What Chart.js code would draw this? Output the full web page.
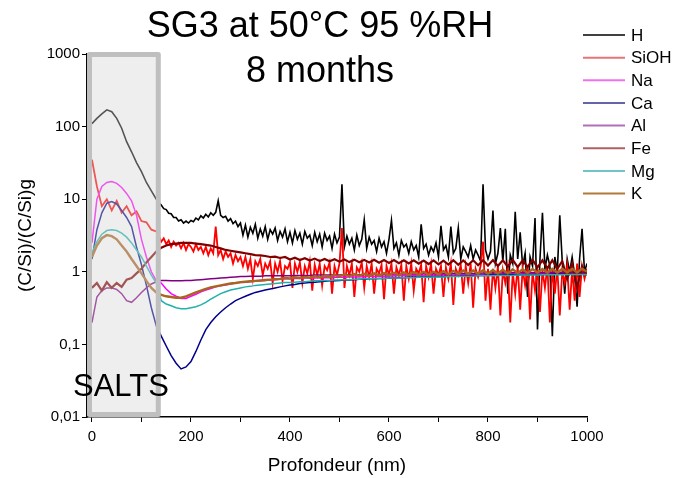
<!DOCTYPE html>
<html>
<head>
<meta charset="utf-8">
<script src="https://cdn.jsdelivr.net/npm/chart.js@4.4.0/dist/chart.umd.min.js"></script>
<style>
  html, body { margin: 0; padding: 0; background: #fff; }
  #wrap { width: 677px; height: 478px; }
</style>
</head>
<body>
<div id="wrap"><canvas id="grafico" width="677" height="478"></canvas></div>
<script>
// profondeur (nm), pas de 10 nm pour les courbes lisses
const depth = [
  0, 10, 20, 30, 40, 50, 60, 70, 80, 90,
  100, 110, 120, 130, 140, 150, 160, 170, 180, 190,
  200, 210, 220, 230, 240, 250, 260, 270, 280, 290,
  300, 310, 320, 330, 340, 350, 360, 370, 380, 390,
  400, 410, 420, 430, 440, 450, 460, 470, 480, 490,
  500, 510, 520, 530, 540, 550, 560, 570, 580, 590,
  600, 610, 620, 630, 640, 650, 660, 670, 680, 690,
  700, 710, 720, 730, 740, 750, 760, 770, 780, 790,
  800, 810, 820, 830, 840, 850, 860, 870, 880, 890,
  900, 910, 920, 930, 940, 950, 960, 970, 980, 990,
  1000
];

// profondeur (nm), pas de 5 nm pour les courbes bruitées (H, SiOH)
const depthFin = [
  0, 10, 20, 30, 40, 50, 60, 70, 80, 90, 100, 110, 120, 130,
  135, 140, 145, 150, 155, 160, 165, 170, 175, 180, 185, 190, 195, 200,
  205, 210, 215, 220, 225, 230, 235, 240, 245, 250, 255, 260, 265, 270, 275, 280, 285, 290, 295, 300,
  305, 310, 315, 320, 325, 330, 335, 340, 345, 350, 355, 360, 365, 370, 375, 380, 385, 390, 395, 400,
  405, 410, 415, 420, 425, 430, 435, 440, 445, 450, 455, 460, 465, 470, 475, 480, 485, 490, 495, 500,
  505, 510, 515, 520, 525, 530, 535, 540, 545, 550, 555, 560, 565, 570, 575, 580, 585, 590, 595, 600,
  605, 610, 615, 620, 625, 630, 635, 640, 645, 650, 655, 660, 665, 670, 675, 680, 685, 690, 695, 700,
  705, 710, 715, 720, 725, 730, 735, 740, 745, 750, 755, 760, 765, 770, 775, 780, 785, 790, 795, 800,
  805, 810, 815, 820, 825, 830, 835, 840, 845, 850, 855, 860, 865, 870, 875, 880, 885, 890, 895, 900,
  905, 910, 915, 920, 925, 930, 935, 940, 945, 950, 955, 960, 965, 970, 975, 980, 985, 990, 995, 1000
];

const serieH = [
  110, 130, 150, 170, 160, 130, 95, 62, 45, 32, 24, 17, 13, 10,
  9, 8.3, 7.4, 7.2, 6.4, 6.3, 5.6, 5.6, 5.0, 5.2, 4.7, 5.0, 4.7, 5.1,
  4.9, 5.5, 5.2, 5.9, 5.5, 6.2, 5.7, 6.5, 6.0, 6.6, 9.5, 6.0, 5.6, 5.8, 5.0, 5.4, 4.6, 5.0, 4.2, 4.7,
  3.2, 4.4, 3.0, 4.1, 3.4, 4.5, 2.9, 3.9, 3.1, 4.2, 2.8, 3.8, 3.3, 4.0, 2.7, 3.6, 3.0, 3.9, 2.6, 3.5,
  2.5, 3.7, 2.8, 3.4, 2.4, 3.6, 2.9, 3.2, 2.3, 3.5, 2.6, 3.3, 2.2, 3.4, 2.7, 3.1, 2.1, 3.3, 2.5, 3.0,
  16, 2.2, 3.1, 2.4, 2.9, 2.0, 3.2, 2.3, 2.8, 5.2, 2.1, 3.0, 2.4, 2.7, 1.9, 2.9, 2.2, 2.6, 1.8, 2.8,
  5.1, 2.1, 2.5, 1.7, 2.7, 2.2, 2.4, 1.8, 2.6, 2.0, 2.3, 1.6, 4.5, 2.1, 2.4, 1.7, 2.2, 1.9, 2.5, 1.6,
  4.3, 2.0, 2.3, 1.6, 4.2, 1.8, 2.1, 4.0, 1.5, 2.2, 1.9, 1.6, 2.3, 1.5, 2.0, 1.7, 1.4, 16, 2.0, 1.5,
  1.9, 7, 1.3, 1.8, 4.0, 1.4, 3.9, 0.5, 1.7, 1.3, 6.7, 1.5, 3.5, 1.2, 1.8, 0.45, 1.6, 1.2, 5.5, 0.16,
  1.5, 6.5, 1.1, 1.7, 1.2, 0.13, 1.6, 1.0, 6, 1.4, 0.5, 1.5, 1.0, 1.6, 0.9, 0.33, 1.5, 3.9, 1.0, 1.3
];

const serieSiOH = [
  35, 15, 8, 10, 7, 9.5, 6.5, 8, 6, 6.8, 5, 4.8, 3.8, 3.6,
  3.1, 2.6, 2.9, 2.4, 2.7, 2.2, 2.6, 2.3, 2.5, 2.1, 2.5, 2.0, 2.4, 2.2,
  1.9, 2.4, 2.0, 2.2, 1.8, 2.2, 1.7, 2.1, 1.8, 4.2, 1.7, 2.0, 1.5, 1.9, 1.6, 1.8, 1.3, 1.7, 1.4, 1.6,
  1.2, 1.6, 1.1, 1.5, 0.8, 1.4, 1.2, 1.5, 0.9, 1.3, 1.1, 1.4, 0.7, 1.3, 1.0, 1.4, 0.75, 1.2, 1.1, 1.35,
  0.6, 1.3, 1.0, 1.35, 0.7, 1.2, 0.95, 1.4, 0.55, 1.25, 0.9, 1.3, 0.65, 1.2, 1.05, 1.35, 0.5, 1.2, 0.9, 1.3,
  4.0, 0.6, 1.2, 0.9, 1.3, 0.45, 1.15, 1.0, 1.35, 0.6, 1.2, 0.85, 1.3, 0.5, 1.1, 0.95, 1.25, 0.42, 1.2, 0.9,
  1.3, 0.5, 1.15, 0.9, 1.25, 0.4, 1.2, 0.8, 1.3, 0.55, 1.1, 0.95, 1.25, 0.38, 1.2, 0.85, 1.3, 0.5, 1.1, 0.9,
  1.2, 0.45, 1.15, 0.8, 1.3, 0.35, 1.1, 0.9, 1.25, 0.5, 1.2, 0.7, 1.3, 0.32, 1.1, 0.85, 1.2, 2.6, 0.4, 1.1,
  0.3, 1.1, 0.6, 1.2, 0.25, 1.05, 0.7, 1.15, 0.2, 1.0, 0.5, 1.2, 0.3, 1.1, 0.65, 1.15, 0.22, 1.0, 0.55, 1.1,
  0.28, 1.05, 0.6, 1.2, 0.2, 1.1, 0.5, 1.15, 0.25, 1.0, 0.7, 1.2, 0.3, 1.1, 0.4, 1.3, 0.45, 1.2, 0.8, 1.1
];

const serieNa = [
  2.5, 10, 15, 17, 17.5, 16.5, 14.5, 12, 9.5, 6,
  2.8, 1.6, 1.0, 0.75, 0.7, 0.58, 0.5, 0.46, 0.43, 0.43,
  0.46, 0.49, 0.53, 0.56, 0.59, 0.62, 0.64, 0.66, 0.68, 0.7,
  0.71, 0.72, 0.73, 0.74, 0.75, 0.76, 0.77, 0.78, 0.79, 0.8,
  0.8, 0.81, 0.81, 0.82, 0.82, 0.82, 0.83, 0.83, 0.83, 0.84,
  0.84, 0.84, 0.85, 0.85, 0.85, 0.86, 0.86, 0.86, 0.87, 0.87,
  0.87, 0.88, 0.88, 0.88, 0.88, 0.89, 0.89, 0.89, 0.89, 0.9,
  0.9, 0.9, 0.9, 0.9, 0.91, 0.91, 0.91, 0.91, 0.92, 0.92,
  0.92, 0.92, 0.92, 0.93, 0.93, 0.93, 0.93, 0.93, 0.94, 0.94,
  0.94, 0.94, 0.94, 0.94, 0.95, 0.95, 0.95, 0.95, 0.95, 0.95,
  0.95
];

const serieCa = [
  1.5, 3.8, 6.5, 8.8, 9.3, 8.6, 7, 5.6, 4.2, 2.2,
  1.25, 0.65, 0.32, 0.18, 0.13, 0.095, 0.07, 0.055, 0.046, 0.049,
  0.058, 0.08, 0.115, 0.16, 0.2, 0.24, 0.28, 0.32, 0.36, 0.4,
  0.43, 0.46, 0.49, 0.52, 0.54, 0.56, 0.58, 0.6, 0.62, 0.64,
  0.66, 0.67, 0.69, 0.7, 0.71, 0.72, 0.73, 0.74, 0.75, 0.75,
  0.76, 0.77, 0.77, 0.78, 0.79, 0.79, 0.8, 0.8, 0.81, 0.81,
  0.82, 0.82, 0.83, 0.83, 0.84, 0.84, 0.85, 0.85, 0.85, 0.86,
  0.86, 0.86, 0.87, 0.87, 0.87, 0.88, 0.88, 0.88, 0.89, 0.89,
  0.9, 0.9, 0.9, 0.9, 0.91, 0.91, 0.91, 0.91, 0.92, 0.92,
  0.92, 0.92, 0.92, 0.93, 0.93, 0.93, 0.93, 0.93, 0.93, 0.93,
  0.93
];

const serieAl = [
  0.2, 0.45, 0.55, 0.6, 0.6, 0.57, 0.5, 0.4, 0.38, 0.44,
  0.52, 0.6, 0.68, 0.73, 0.76, 0.76, 0.75, 0.75, 0.75, 0.76,
  0.76, 0.77, 0.78, 0.79, 0.8, 0.81, 0.82, 0.83, 0.84, 0.85,
  0.86, 0.86, 0.87, 0.87, 0.87, 0.88, 0.88, 0.88, 0.88, 0.88,
  0.88, 0.89, 0.89, 0.89, 0.89, 0.9, 0.9, 0.9, 0.9, 0.9,
  0.9, 0.91, 0.91, 0.91, 0.91, 0.92, 0.92, 0.92, 0.92, 0.92,
  0.92, 0.93, 0.93, 0.93, 0.93, 0.93, 0.93, 0.94, 0.94, 0.94,
  0.94, 0.94, 0.94, 0.95, 0.95, 0.95, 0.95, 0.95, 0.95, 0.96,
  0.96, 0.96, 0.96, 0.96, 0.96, 0.97, 0.97, 0.97, 0.97, 0.97,
  0.97, 0.97, 0.97, 0.98, 0.98, 0.98, 0.98, 0.98, 0.98, 0.98,
  0.98
];

const serieFe = [
  0.6, 0.7, 0.55, 0.72, 0.6, 0.7, 0.62, 0.78, 0.82, 0.95,
  1.1, 1.35, 1.6, 1.9, 2.15, 2.3, 2.4, 2.45, 2.5, 2.5,
  2.5, 2.45, 2.4, 2.35, 2.3, 2.2, 2.1, 2.0, 1.95, 1.9,
  1.85, 1.8, 1.75, 1.7, 1.68, 1.65, 1.6, 1.62, 1.55, 1.6,
  1.48, 1.56, 1.45, 1.54, 1.43, 1.52, 1.41, 1.5, 1.4, 1.49,
  1.38, 1.48, 1.36, 1.47, 1.35, 1.46, 1.34, 1.46, 1.33, 1.45,
  1.32, 1.45, 1.31, 1.44, 1.3, 1.44, 1.29, 1.43, 1.28, 1.44,
  1.27, 1.43, 1.26, 1.44, 1.25, 1.43, 1.24, 1.44, 1.23, 1.44,
  1.22, 1.45, 1.2, 1.44, 1.18, 1.46, 1.16, 1.44, 1.17, 1.46,
  1.15, 1.44, 1.12, 1.45, 1.1, 1.4, 0.8, 1.3, 0.6, 1.2,
  0.9
];

const serieMg = [
  1.8, 2.6, 3.3, 3.7, 3.8, 3.7, 3.4, 3.0, 2.5, 2.0,
  1.6, 1.2, 0.9, 0.7, 0.4, 0.36, 0.34, 0.32, 0.31, 0.31,
  0.32, 0.33, 0.35, 0.38, 0.42, 0.46, 0.5, 0.53, 0.56, 0.58,
  0.6, 0.62, 0.63, 0.65, 0.66, 0.67, 0.68, 0.69, 0.7, 0.71,
  0.71, 0.72, 0.73, 0.73, 0.74, 0.75, 0.75, 0.76, 0.76, 0.77,
  0.77, 0.78, 0.78, 0.79, 0.79, 0.8, 0.8, 0.8, 0.81, 0.81,
  0.82, 0.82, 0.82, 0.83, 0.83, 0.83, 0.84, 0.84, 0.84, 0.85,
  0.85, 0.85, 0.86, 0.86, 0.86, 0.87, 0.87, 0.87, 0.88, 0.88,
  0.88, 0.88, 0.89, 0.89, 0.89, 0.89, 0.9, 0.9, 0.9, 0.9,
  0.9, 0.91, 0.91, 0.91, 0.91, 0.91, 0.92, 0.92, 0.92, 0.92,
  0.92
];

const serieK = [
  1.6, 2.3, 2.9, 3.2, 3.1, 2.8, 2.3, 1.9, 1.5, 1.2,
  0.95, 0.75, 0.6, 0.52, 0.48, 0.46, 0.45, 0.44, 0.44, 0.46,
  0.49, 0.52, 0.55, 0.58, 0.61, 0.63, 0.65, 0.67, 0.69, 0.7,
  0.72, 0.73, 0.74, 0.75, 0.76, 0.77, 0.78, 0.79, 0.8, 0.82,
  0.81, 0.84, 0.82, 0.85, 0.83, 0.87, 0.84, 0.88, 0.85, 0.9,
  0.86, 0.92, 0.87, 0.93, 0.88, 0.94, 0.88, 0.95, 0.89, 0.96,
  0.9, 0.97, 0.9, 0.98, 0.9, 0.99, 0.91, 1.0, 0.91, 1.0,
  0.92, 1.02, 0.92, 1.03, 0.93, 1.04, 0.93, 1.04, 0.94, 1.05,
  0.94, 1.06, 0.95, 1.07, 0.95, 1.08, 0.96, 1.08, 0.96, 1.09,
  0.97, 1.09, 0.97, 1.1, 0.97, 1.1, 0.98, 1.1, 0.98, 1.1,
  1.0
];

const nomsSeries = ['H', 'SiOH', 'Na', 'Ca', 'Al', 'Fe', 'Mg', 'K'];
const valeursSeries = [serieH, serieSiOH, serieNa, serieCa, serieAl, serieFe, serieMg, serieK];
const abscissesSeries = [depthFin, depthFin, depth, depth, depth, depth, depth, depth];

const yTicks = [0.01, 0.1, 1, 10, 100, 1000];
const yTickLabels = ['0,01', '0,1', '1', '10', '100', '1000'];
const xTicks = [0, 100, 200, 300, 400, 500, 600, 700, 800, 900, 1000];
const xTicksLabelled = [0, 200, 400, 600, 800, 1000];

// zone des sels (nm)
const zoneSels = [-5, 134];

// styles
const couleurs = ['#000000', '#ff0000', '#ff00ff', '#00008b', '#800080', '#800000', '#20b2aa', '#a8651e'];
const couleursLegende = ['#000000', '#e87474', '#f070f0', '#6464a8', '#b070b8', '#b06060', '#70c4c4', '#b07a38'];
const epaisseurs = [1.6, 1.8, 1.5, 1.5, 1.5, 2.2, 1.5, 2.4];
const police = "'Liberation Sans', Arial, sans-serif";

const datasets = nomsSeries.map((nom, i) => ({
    label: nom,
    data: abscissesSeries[i].map((d, j) => ({ x: d, y: valeursSeries[i][j] })),
    borderColor: couleurs[i],
    borderWidth: epaisseurs[i],
    pointRadius: 0,
    tension: 0,
    fill: false,
    order: nomsSeries.length - i
}));

const decor = {
    id: 'decor',
    afterDatasetsDraw(chart) {
        // boîte grise semi-transparente sur la zone des sels
        const { ctx, chartArea, scales } = chart;
        const g = scales.x.getPixelForValue(zoneSels[0]);
        const d = scales.x.getPixelForValue(zoneSels[1]);
        const h = chartArea.top + 0.5;
        const b = chartArea.bottom - 2.5;
        ctx.save();
        ctx.fillStyle = 'rgba(212,212,212,0.4)';
        ctx.fillRect(g, h, d - g, b - h);
        ctx.strokeStyle = '#bfbfbf';
        ctx.lineWidth = 5;
        ctx.lineJoin = 'round';
        ctx.strokeRect(g, h, d - g, b - h);
        ctx.restore();
    },
    afterDraw(chart) {
        const ctx = chart.ctx;
        ctx.save();
        ctx.fillStyle = '#000';
        ctx.textAlign = 'center';
        ctx.textBaseline = 'alphabetic';
        ctx.font = '36px ' + police;
        ctx.fillText('SG3 at 50°C 95 %RH', 320, 37);
        ctx.fillText('8 months', 320, 82);

        ctx.font = '31px ' + police;
        ctx.textAlign = 'left';
        ctx.fillText('SALTS', 73, 396);

        // légende
        ctx.font = '17px ' + police;
        ctx.textBaseline = 'middle';
        nomsSeries.forEach((nom, i) => {
            const y = 35 + i * 22.65;
            ctx.strokeStyle = couleursLegende[i];
            ctx.lineWidth = i === 0 ? 1.5 : 2;
            ctx.beginPath();
            ctx.moveTo(583, y);
            ctx.lineTo(625, y);
            ctx.stroke();
            ctx.fillStyle = '#000';
            ctx.fillText(nom, 631, y + 1);
        });
        ctx.restore();
    }
};

new Chart(document.getElementById('grafico').getContext('2d'), {
    type: 'line',
    data: { datasets: datasets },
    plugins: [decor],
    options: {
        responsive: false,
        animation: false,
        events: [],
        layout: { padding: { top: 54, right: 90, left: 0, bottom: 0 } },
        plugins: { legend: { display: false }, tooltip: { enabled: false } },
        scales: {
            x: {
                type: 'linear',
                min: -10,
                max: 1000,
                afterFit: (scale) => { scale.height = 61; },
                afterBuildTicks: (scale) => { scale.ticks = xTicks.map(v => ({ value: v })); },
                ticks: {
                    autoSkip: false,
                    maxRotation: 0,
                    padding: 6,
                    color: '#000',
                    font: { family: police, size: 15 },
                    callback: (v) => xTicksLabelled.includes(v) ? String(v) : ''
                },
                grid: { drawOnChartArea: false, drawTicks: true, tickLength: 5, color: '#000' },
                border: { color: '#000', width: 1.5 },
                title: {
                    display: true,
                    text: 'Profondeur (nm)',
                    color: '#000',
                    font: { family: police, size: 19 },
                    padding: { top: 0, bottom: 1 }
                }
            },
            y: {
                type: 'logarithmic',
                min: 0.01,
                max: 1000,
                afterFit: (scale) => { scale.width = 87; },
                afterBuildTicks: (scale) => { scale.ticks = yTicks.map(v => ({ value: v })); },
                ticks: {
                    padding: 2,
                    color: '#000',
                    font: { family: police, size: 15 },
                    callback: (v, i) => yTickLabels[i]
                },
                grid: { drawOnChartArea: false, drawTicks: true, tickLength: 5, color: '#000' },
                border: { color: '#000', width: 1.5 },
                title: {
                    display: true,
                    text: '(C/Si)/(C/Si)g',
                    color: '#000',
                    font: { family: police, size: 19 },
                    padding: { top: 14, bottom: 0 }
                }
            }
        }
    }
});
</script>
</body>
</html>
